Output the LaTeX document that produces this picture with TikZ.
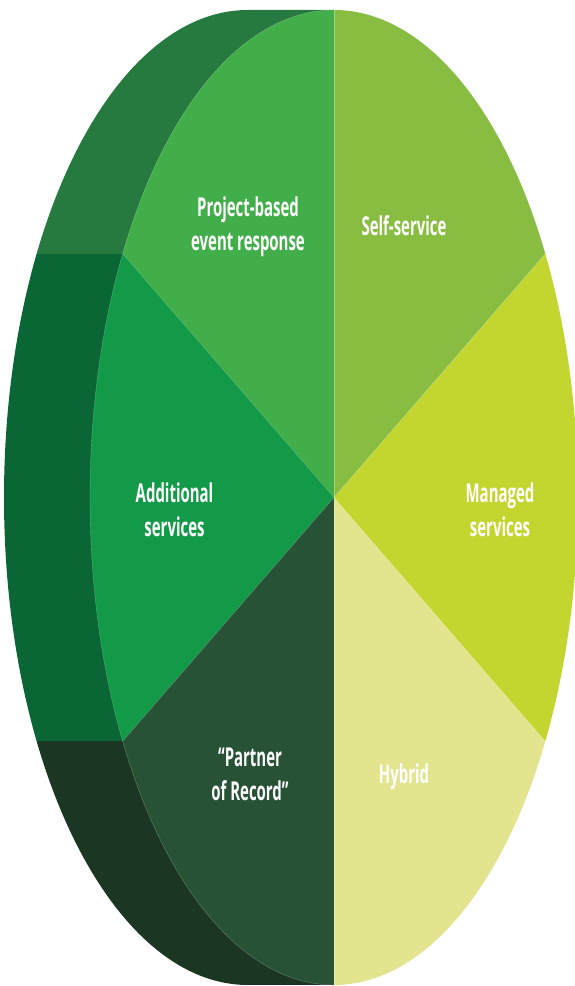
\documentclass[tikz,border=0pt]{standalone}
\usepackage{fontspec}
\usetikzlibrary{calc}
\setmainfont{Open Sans}[FakeStretch=0.575]
\definecolor{bandtop}{HTML}{277A3F}
\definecolor{bandmid}{HTML}{0B6635}
\definecolor{bandbot}{HTML}{1B3723}
\definecolor{cproject}{HTML}{42AE4A}
\definecolor{cself}{HTML}{88BD42}
\definecolor{cmanaged}{HTML}{C3D62F}
\definecolor{chybrid}{HTML}{E2E48E}
\definecolor{cpartner}{HTML}{285235}
\definecolor{cadditional}{HTML}{139A48}
\tikzset{
  x=1pt, y=1pt,
  seglabel/.style={text=white, align=center, inner sep=0pt,
    font=\bfseries\fontsize{26}{34}\selectfont},
  sep/.style={draw=white, draw opacity=0.3, line width=0.4pt},
  disc/.style={x radius=244pt, y radius=487.5pt},
}
\begin{document}
\begin{tikzpicture}
\useasboundingbox (0,0) rectangle (575,986);
\clip (0,0) rectangle (575,986);
\coordinate (C) at (334,488.5);
% side wall of the disc, split into three horizontal bands
\begin{scope}
  \clip (334,976) -- (248,976)
    arc[start angle=90, end angle=270, disc]
    -- (334,1) -- cycle;
  \fill[bandtop] (0,732.25) rectangle (575,986);
  \fill[bandmid] (0,244.75) rectangle (575,732.25);
  \fill[bandbot] (0,0) rectangle (575,244.75);
\end{scope}
% front face: six sectors
\foreach \a/\col in {90/cproject, 150/cadditional, 210/cpartner,
                     270/chybrid, 330/cmanaged, 30/cself} {
  \fill[\col] (C) -- ($(C)+(\a:244pt and 487.5pt)$)
    arc[start angle=\a, delta angle=60, disc] -- cycle;
}
\foreach \a in {30,90,150,210,270,330} {
  \draw[sep] (C) -- ($(C)+(\a:244pt and 487.5pt)$);
}
\draw[sep] ($(C)+(90:244pt and 487.5pt)$)
  arc[start angle=90, end angle=270, disc];
% labels
\node[seglabel] (project) at (248,759) {Project-based\\event response};
\node[seglabel] (self) at (404,760) {Self-service};
\node[seglabel] (managed) at (500,476) {Managed\\services};
\node[seglabel] (additional) at (174.5,476) {Additional\\services};
\node[seglabel] (partner) at (250,212) {“Partner\\of Record”};
\node[seglabel] (hybrid) at (404,209) {Hybrid};
\end{tikzpicture}
\end{document}
